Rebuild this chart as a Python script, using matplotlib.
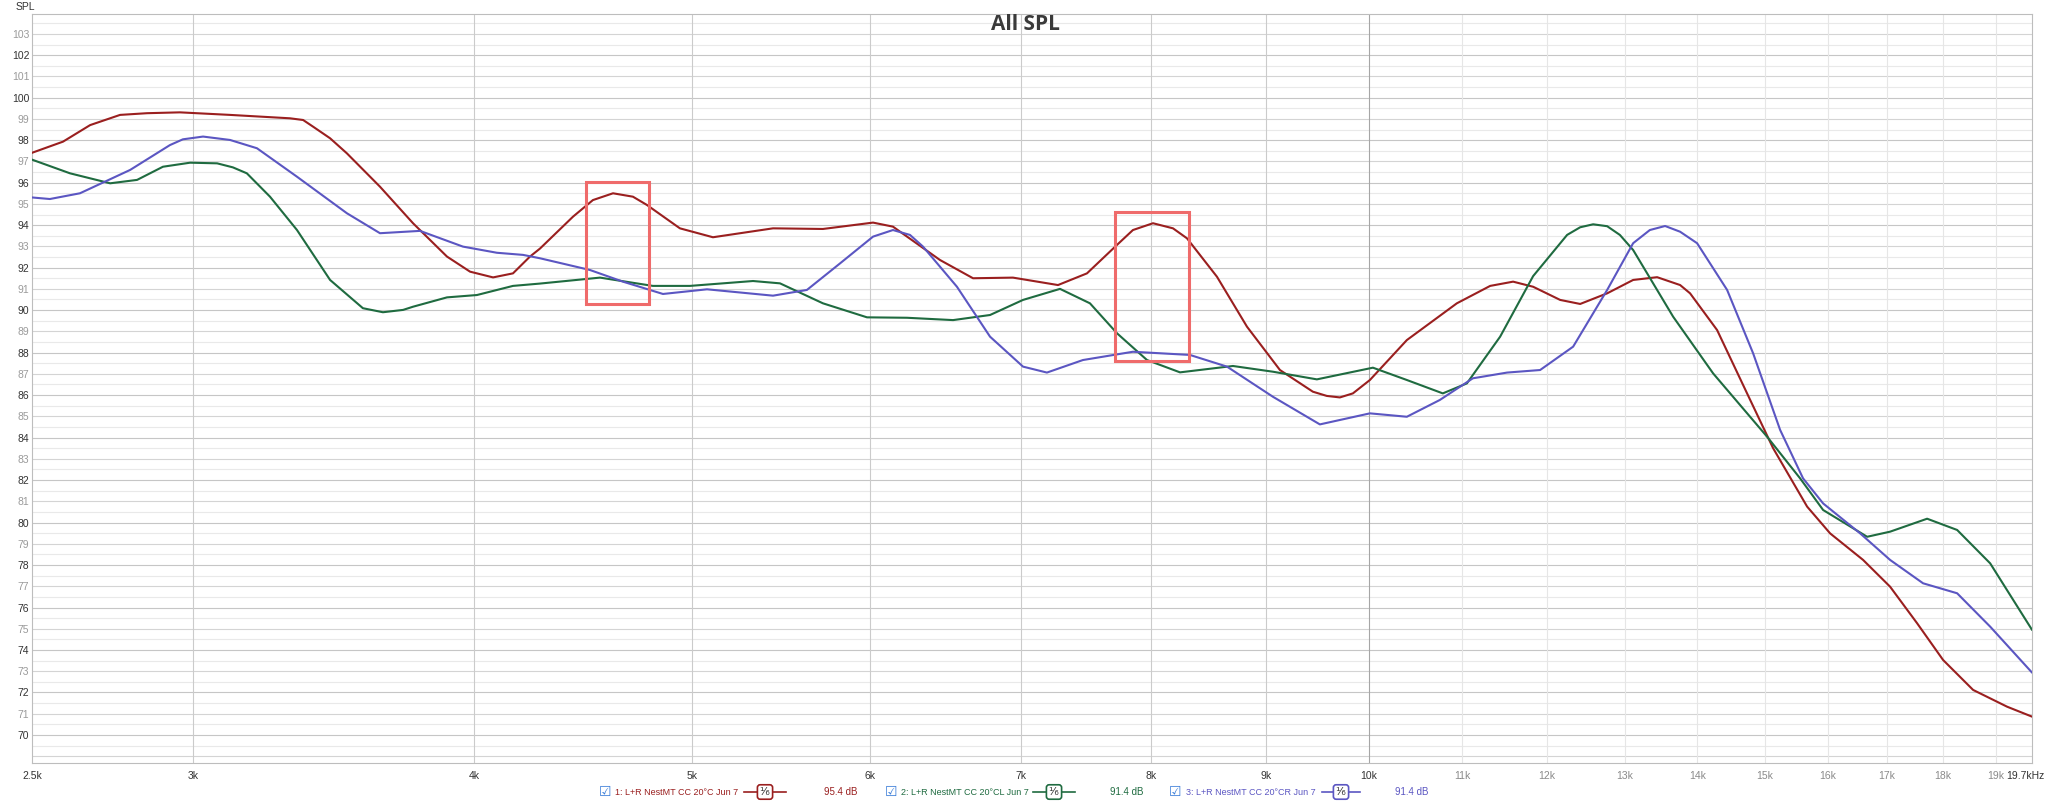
import matplotlib
matplotlib.use('Agg')
import matplotlib.pyplot as plt
import matplotlib.transforms as mtransforms
from matplotlib.patches import Rectangle
from matplotlib.lines import Line2D
from matplotlib.ticker import FixedLocator, NullFormatter

# ---- data: (frequency Hz, level dB) ----
red = [(2540, 97.38), (2626, 97.93), (2700, 98.71), (2784, 99.19), (2862, 99.27), (2960, 99.31),
       (3116, 99.19), (3313, 99.03), (3358, 98.95), (3392, 98.64), (3452, 98.09), (3512, 97.38),
       (3633, 95.81), (3758, 94.09), (3891, 92.52), (3984, 91.81), (4079, 91.54), (4163, 91.73),
       (4236, 92.52), (4280, 92.9), (4427, 94.40), (4518, 95.18), (4612, 95.5), (4707, 95.34),
       (4775, 94.95), (4939, 93.85), (5109, 93.43), (5433, 93.85), (5718, 93.82), (6019, 94.12),
       (6143, 93.93), (6446, 92.36), (6668, 91.5), (6946, 91.53), (7274, 91.18), (7493, 91.73),
       (7727, 93.07), (7854, 93.77), (8017, 94.09), (8183, 93.85), (8301, 93.38), (8560, 91.57),
       (8827, 89.22), (9130, 87.18), (9443, 86.16), (9579, 85.96), (9708, 85.89), (9838, 86.08),
       (10011, 86.71), (10397, 88.59), (10943, 90.32), (11323, 91.14), (11592, 91.34), (11832, 91.10),
       (12164, 90.48), (12416, 90.29), (12764, 90.79), (13108, 91.42), (13434, 91.55), (13754, 91.18),
       (13895, 90.79), (14285, 89.06), (14730, 86.08), (15128, 83.5), (15664, 80.75), (16037, 79.49),
       (16588, 78.24), (17053, 76.98), (17531, 75.26), (18004, 73.53), (18566, 72.12), (19224, 71.33),
       (19723, 70.86)]

green = [(2540, 97.11), (2645, 96.44), (2756, 95.97), (2833, 96.13), (2909, 96.75), (2991, 96.94),
         (3075, 96.91), (3125, 96.72), (3170, 96.44), (3246, 95.34), (3337, 93.77), (3452, 91.42),
         (3570, 90.09), (3644, 89.90), (3720, 90.01), (3758, 90.16), (3891, 90.60), (4012, 90.71),
         (4163, 91.14), (4280, 91.25), (4551, 91.53), (4804, 91.14), (4990, 91.14), (5323, 91.37),
         (5472, 91.26), (5718, 90.32), (5982, 89.66), (6232, 89.64), (6533, 89.53), (6785, 89.77),
         (7018, 90.48), (7289, 91.0), (7516, 90.32), (7727, 88.91), (7968, 87.65), (8242, 87.07),
         (8701, 87.37), (9065, 87.10), (9482, 86.74), (10042, 87.29), (10397, 86.71), (10787, 86.08),
         (11056, 86.55), (11439, 88.75), (11832, 91.6), (12251, 93.54), (12416, 93.9), (12582, 94.04),
         (12764, 93.95), (12931, 93.54), (13108, 92.83), (13656, 89.69), (14227, 87.02), (15035, 84.04),
         (15552, 82.08), (15923, 80.59), (16657, 79.33), (17053, 79.57), (17712, 80.18), (18265, 79.65),
         (18893, 78.08), (19723, 74.94)]

blue = [(2540, 95.31), (2591, 95.23), (2672, 95.50), (2813, 96.60), (2930, 97.77), (2969, 98.04),
        (3031, 98.17), (3116, 98.01), (3203, 97.62), (3337, 96.28), (3512, 94.56), (3633, 93.62),
        (3785, 93.73), (3955, 92.99), (4095, 92.70), (4206, 92.60), (4280, 92.44), (4504, 91.89),
        (4659, 91.34), (4854, 90.76), (5078, 90.98), (5433, 90.68), (5625, 90.95), (5819, 92.20),
        (6019, 93.46), (6143, 93.77), (6251, 93.54), (6335, 92.99), (6559, 91.10), (6785, 88.75),
        (7018, 87.34), (7192, 87.06), (7462, 87.65), (7854, 88.04), (8326, 87.89), (8648, 87.34),
        (9065, 85.92), (9511, 84.62), (10011, 85.14), (10397, 84.98), (10754, 85.77), (11124, 86.79),
        (11521, 87.06), (11917, 87.18), (12327, 88.28), (12764, 90.95), (13108, 93.15), (13334, 93.77),
        (13544, 93.96), (13754, 93.69), (13995, 93.15), (14432, 90.95), (14821, 87.97), (15237, 84.36),
        (15599, 82.08), (15923, 80.90), (16538, 79.49), (17053, 78.24), (17639, 77.14), (18265, 76.67),
        (18893, 75.10), (19723, 72.93)]

series_names = ['1: L+R NestMT CC 20°C Jun 7', '2: L+R NestMT CC 20°CL Jun 7', '3: L+R NestMT CC 20°CR Jun 7']
series_levels = ['95.4 dB', '91.4 dB', '91.4 dB']
colors = ['#9a1f1f', '#1f6b40', '#5b56c2']

# highlight boxes: (f_low, f_high, db_low, db_high)
boxes = [(4484, 4786, 90.29, 96.02), (7711, 8318, 87.60, 94.61)]

x_ticks = [2544, 3000, 4000, 5000, 6000, 7000, 8000, 9000, 10000, 11000, 12000,
           13000, 14000, 15000, 16000, 17000, 18000, 19000, 19700]
x_labels = ['2.5k', '3k', '4k', '5k', '6k', '7k', '8k', '9k', '10k', '11k', '12k',
            '13k', '14k', '15k', '16k', '17k', '18k', '19k', '19.7kHz']
y_ticks = list(range(70, 104))

small_font = ['Liberation Sans', 'DejaVu Sans']

W, H = 2048, 805
fig = plt.figure(figsize=(W / 100, H / 100), dpi=100)
ax = fig.add_axes([32 / W, 1 - 763 / H, 2000 / W, 749 / H])
ax.set_xscale('log')
ax.set_xlim(2544, 19720)
ax.set_ylim(68.68, 103.94)

# grid, REW style
for v in range(69, 104):
    ax.axhline(v + 0.5, color='#e9e9e9', lw=0.8, zorder=0)
for v in range(69, 104):
    ax.axhline(v, color='#c6c6c6' if v % 2 == 0 else '#d4d4d4', lw=0.8, zorder=0)
for f in x_ticks[1:-1]:
    if f == 10000:
        c = '#a6a6a6'
    elif f < 10000:
        c = '#cbcbcb'
    else:
        c = '#e6e6e6'
    ax.axvline(f, color=c, lw=0.8, zorder=0)

for pts, c in zip([red, green, blue], colors):
    fx, dbs = zip(*pts)
    ax.plot(fx, dbs, color=c, lw=1.5, zorder=3, solid_joinstyle='round', solid_capstyle='round')

for f0, f1, d0, d1 in boxes:
    ax.add_patch(Rectangle((f0, d0), f1 - f0, d1 - d0, fill=False,
                           edgecolor='#ef6b6b', lw=2.2, zorder=4))

ax.xaxis.set_major_locator(FixedLocator(x_ticks))
ax.xaxis.set_minor_formatter(NullFormatter())
ax.set_xticklabels(x_labels)
ax.set_yticks(y_ticks)
ax.tick_params(axis='x', length=0, pad=6, labelsize=7.5)
ax.tick_params(axis='y', length=0, pad=2, labelsize=7.5)
xt = ax.get_xticklabels()
for t, f in zip(xt, x_ticks):
    t.set_color('#333333' if (f <= 10000 or f == 19700) else '#8a8a8a')
    t.set_family(small_font)
xt[-1].set_horizontalalignment('right')
xt[-1].set_transform(xt[-1].get_transform() +
                     mtransforms.ScaledTranslation(13 / 100, 0, fig.dpi_scale_trans))
for t, v in zip(ax.get_yticklabels(), y_ticks):
    t.set_color('#333333' if v % 2 == 0 else '#9a9a9a')
    t.set_family(small_font)
for s in ax.spines.values():
    s.set_color('#bdbdbd')
    s.set_linewidth(0.8)

fig.text(1025 / W, 1 - 24 / H, 'All SPL', ha='center', va='center', fontsize=15,
         fontweight='bold', color='#3a3a3a', family=['Open Sans', 'DejaVu Sans'])
fig.text(16 / W, 1 - 7 / H, 'SPL', ha='left', va='center', fontsize=7.5, color='#333333',
         family=small_font)

# legend row at the bottom
leg_y = 1 - 792 / H
chk_x = [605, 891, 1175]
name_x = [615, 901, 1186]
sym_x = [(744, 786), (1033, 1075), (1322, 1360)]
lvl_x = [824, 1110, 1395]
for name, lvl, c, cx, nx, (s0, s1), lx in zip(series_names, series_levels, colors,
                                               chk_x, name_x, sym_x, lvl_x):
    fig.text(cx / W, leg_y, '\u2611', ha='center', va='center', fontsize=10, color='#3b7dd8')
    fig.text(nx / W, leg_y, name, ha='left', va='center', fontsize=6.5, color=c, family=small_font)
    fig.add_artist(Line2D([s0 / W, s1 / W], [leg_y, leg_y], color=c, lw=1.2))
    fig.text((s0 + s1) / 2 / W, leg_y, '\u00b9\u2044\u2086', ha='center', va='center', fontsize=8,
             color='#333333',
             bbox=dict(boxstyle='round,pad=0.2,rounding_size=0.25', fc='white', ec=c, lw=1.2))
    fig.text(lx / W, leg_y, lvl, ha='left', va='center', fontsize=7, color=c, family=small_font)

fig.savefig('out.png', dpi=100, facecolor='white')
